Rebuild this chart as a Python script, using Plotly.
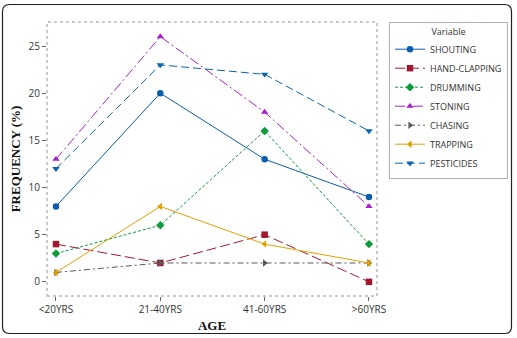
import plotly.graph_objects as go

ages = ["<20YRS", "21-40YRS", "41-60YRS", ">60YRS"]
shouting = [8, 20, 13, 9]
hand_clapping = [4, 2, 5, 0]
drumming = [3, 6, 16, 4]
stoning = [13, 26, 18, 8]
chasing = [1, 2, 2, 2]
trapping = [1, 8, 4, 2]
pesticides = [12, 23, 22, 16]

series = [
    ("SHOUTING", shouting, "#0B5CAD", "solid", "circle"),
    ("HAND-CLAPPING", hand_clapping, "#A3172E", "10px,4px", "square"),
    ("DRUMMING", drumming, "#109A3C", "3px,2px", "diamond"),
    ("STONING", stoning, "#A321C8", "10px,3px,2px,3px", "triangle-up"),
    ("CHASING", chasing, "#5A5A5A", "6px,3px,2px,3px", "triangle-right"),
    ("TRAPPING", trapping, "#E0A000", "solid", "triangle-left"),
    ("PESTICIDES", pesticides, "#0B63B0", "8px,4px", "triangle-down"),
]

fig = go.Figure()
for name, vals, color, dash, sym in series:
    fig.add_trace(go.Scatter(
        x=ages, y=vals, name=name, mode="lines+markers",
        line=dict(color=color, width=1, dash=dash),
        marker=dict(symbol=sym, size=6.5, color=color),
    ))

L, R, T, B = 47, 140, 22, 42
W, H = 517, 338
pw, ph = W - L - R, H - T - B

def px2paper_x(p):
    return (p - L) / pw

def px2paper_y(p):
    return (H - B - p) / ph

# outer rounded frame
x0, x1 = px2paper_x(2.5), px2paper_x(511.5)
y0, y1 = px2paper_y(333.5), px2paper_y(4.5)
rx, ry = 7 / pw, 7 / ph
path = (f"M {x0+rx},{y1} L {x1-rx},{y1} Q {x1},{y1} {x1},{y1-ry} "
        f"L {x1},{y0+ry} Q {x1},{y0} {x1-rx},{y0} L {x0+rx},{y0} "
        f"Q {x0},{y0} {x0},{y0+ry} L {x0},{y1-ry} Q {x0},{y1} {x0+rx},{y1} Z")

shapes = [
    dict(type="path", xref="paper", yref="paper", path=path,
         line=dict(color="#222222", width=1.2), layer="below"),
    dict(type="rect", xref="paper", yref="paper", x0=0, x1=1, y0=0, y1=1,
         line=dict(color="#B8B8B8", width=1.5, dash="dot"), layer="below"),
]

fig.update_layout(
    width=W, height=H,
    margin=dict(l=L, r=R, t=T, b=B, autoexpand=False),
    paper_bgcolor="white", plot_bgcolor="white",
    shapes=shapes,
    font=dict(family="Open Sans, DejaVu Sans, sans-serif", size=10, color="#333333"),
    xaxis=dict(
        type="category", range=[-0.086, 3.077],
        showgrid=False, zeroline=False, showline=False, automargin=False,
        ticks="outside", ticklen=4, tickcolor="#666666",
        tickfont=dict(size=10, color="#333333"),
        title=dict(text="<b>AGE</b>", font=dict(family="Liberation Serif, serif", size=13, color="#111111"), standoff=5),
    ),
    yaxis=dict(
        range=[-1.5, 27.55], tickvals=[0, 5, 10, 15, 20, 25],
        showgrid=False, zeroline=False, showline=False, automargin=False,
        ticks="outside", ticklen=4, tickcolor="#666666",
        tickfont=dict(size=10, color="#333333"),
        title=dict(text="<b>FREQUENCY (%)</b>", font=dict(family="Liberation Serif, serif", size=13, color="#111111"), standoff=5),
    ),
    legend=dict(
        x=px2paper_x(389), y=px2paper_y(22), xanchor="left", yanchor="top",
        bordercolor="#B0B0B0", borderwidth=1, bgcolor="white",
        font=dict(size=9, color="#333333"),
        title=dict(text="Variable", font=dict(size=9, color="#333333"), side="top center"),
        itemwidth=30, tracegroupgap=0,
    ),
)

fig.write_html("out.html")
